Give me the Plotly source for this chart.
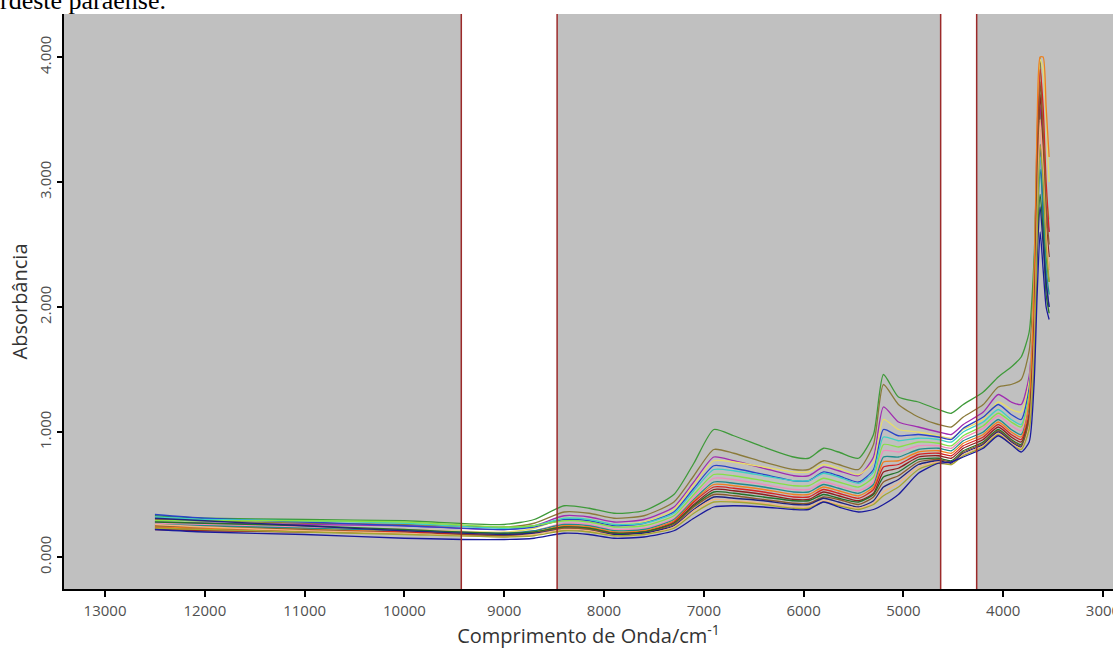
import plotly.graph_objects as go

wavenumber = [12500, 12000, 11000, 10000, 9000, 8700, 8400, 8150, 7900, 7600,
              7300, 7100, 6900, 6700, 6400, 6100, 5950, 5800, 5650, 5450,
              5300, 5200, 5050, 4850, 4650, 4520, 4400, 4200, 4050, 3920,
              3820, 3740, 3690, 3660, 3630, 3600, 3570, 3540]

s01 = [.33, .31, .30, .29, .26, .30, .41, .39, .35, .37, .50, .75, 1.02, .97, .88, .80, .79, .87, .84, .79,
       .98, 1.46, 1.28, 1.24, 1.18, 1.15, 1.22, 1.32, 1.44, 1.52, 1.60, 1.80, 2.4, 3.2, 3.6, 2.9, 2.4, 2.2]
s02 = [.30, .29, .27, .26, .24, .27, .36, .35, .31, .33, .44, .65, .86, .83, .76, .70, .70, .77, .74, .70,
       .90, 1.38, 1.22, 1.12, 1.06, 1.04, 1.12, 1.22, 1.36, 1.38, 1.42, 1.65, 2.3, 3.4, 4.0, 3.2, 2.6, 2.3]
s03 = [.28, .27, .26, .25, .22, .25, .33, .32, .28, .30, .40, .60, .80, .77, .71, .65, .65, .72, .69, .65,
       .80, 1.20, 1.08, 1.04, 1.00, .98, 1.06, 1.16, 1.30, 1.24, 1.22, 1.45, 2.1, 3.0, 3.6, 3.3, 2.8, 2.6]
s04 = [.25, .24, .23, .22, .20, .23, .31, .30, .26, .28, .38, .58, .77, .76, .72, .68, .68, .74, .71, .66,
       .76, 1.10, 1.02, 1.00, .97, .95, 1.02, 1.10, 1.24, 1.18, 1.16, 1.40, 2.2, 3.3, 3.98, 3.9, 3.5, 3.0]
s05 = [.34, .31, .28, .25, .22, .24, .30, .29, .25, .27, .36, .55, .73, .71, .66, .61, .61, .68, .65, .60,
       .70, 1.02, .97, .98, .96, .94, 1.03, 1.12, 1.22, 1.14, 1.10, 1.35, 2.0, 2.8, 3.3, 2.7, 2.2, 2.0]
s06 = [.32, .30, .29, .27, .23, .25, .31, .30, .26, .27, .35, .53, .70, .69, .65, .61, .61, .67, .64, .59,
       .68, .96, .93, .95, .94, .92, 1.00, 1.08, 1.18, 1.10, 1.06, 1.30, 1.9, 2.7, 3.2, 3.0, 2.6, 2.4]
s07 = [.29, .29, .29, .28, .24, .25, .29, .28, .24, .25, .33, .50, .66, .65, .61, .57, .57, .63, .60, .56,
       .64, .90, .88, .92, .91, .89, .97, 1.05, 1.15, 1.08, 1.04, 1.30, 2.0, 3.0, 3.7, 3.4, 2.9, 2.7]
s08 = [.27, .26, .24, .22, .19, .21, .27, .26, .22, .23, .31, .48, .63, .62, .58, .54, .54, .60, .57, .53,
       .60, .85, .84, .89, .89, .87, .95, 1.03, 1.13, 1.05, 1.01, 1.25, 1.9, 2.8, 3.4, 3.1, 2.5, 2.3]
s09 = [.26, .25, .23, .21, .19, .21, .26, .25, .21, .22, .30, .46, .60, .59, .56, .52, .52, .58, .55, .51,
       .58, .80, .80, .86, .87, .85, .93, 1.00, 1.10, 1.02, .98, 1.20, 1.8, 2.6, 3.1, 2.8, 2.3, 2.1]
s10 = [.24, .23, .22, .20, .18, .20, .25, .24, .20, .21, .29, .45, .58, .57, .54, .50, .50, .56, .53, .49,
       .56, .76, .77, .84, .85, .83, .91, .98, 1.08, 1.00, .96, 1.25, 2.2, 3.5, 4.0, 4.0, 3.6, 3.2]
s11 = [.23, .22, .21, .20, .17, .19, .24, .23, .19, .20, .28, .44, .56, .55, .52, .48, .48, .54, .51, .47,
       .54, .72, .74, .82, .83, .81, .89, .96, 1.06, .98, .94, 1.15, 1.9, 3.1, 3.9, 3.6, 3.0, 2.6]
s12 = [.22, .21, .20, .19, .17, .19, .23, .22, .19, .20, .27, .42, .54, .53, .50, .46, .46, .52, .49, .45,
       .51, .68, .71, .80, .81, .79, .87, .94, 1.04, .96, .92, 1.12, 1.8, 2.9, 3.7, 3.3, 2.7, 2.4]
s13 = [.28, .27, .25, .22, .19, .20, .24, .23, .19, .20, .27, .41, .52, .51, .48, .45, .45, .50, .47, .44,
       .50, .64, .68, .78, .79, .77, .85, .92, 1.02, .94, .90, 1.10, 1.7, 2.5, 2.9, 2.6, 2.1, 1.95]
s14 = [.25, .24, .22, .19, .17, .19, .23, .22, .18, .19, .26, .40, .50, .49, .46, .43, .43, .48, .46, .42,
       .48, .60, .65, .76, .78, .76, .84, .91, 1.01, .93, .89, 1.10, 1.8, 3.0, 3.8, 3.4, 2.8, 2.5]
s15 = [.31, .29, .25, .21, .18, .19, .22, .21, .18, .19, .25, .38, .48, .47, .45, .42, .42, .47, .44, .40,
       .45, .56, .62, .74, .77, .75, .83, .90, 1.00, .92, .88, 1.05, 1.6, 2.4, 2.8, 2.5, 2.2, 2.0]
s16 = [.26, .24, .21, .19, .16, .18, .22, .21, .17, .18, .24, .37, .46, .45, .43, .40, .40, .45, .42, .39,
       .43, .52, .59, .72, .76, .74, .82, .89, .99, .91, .87, 1.05, 1.7, 2.7, 3.5, 3.1, 2.6, 2.3]
s17 = [.23, .22, .20, .18, .16, .17, .21, .20, .17, .18, .23, .35, .44, .44, .42, .39, .39, .44, .41, .38,
       .42, .49, .56, .70, .75, .74, .81, .88, .98, .90, .86, 1.02, 1.6, 2.6, 3.3, 3.0, 2.5, 2.2]
s18 = [.22, .20, .18, .15, .14, .15, .19, .18, .15, .16, .21, .31, .40, .41, .40, .38, .38, .44, .40, .36,
       .38, .42, .50, .67, .75, .76, .80, .87, .97, .90, .84, .92, 1.4, 2.1, 2.6, 2.3, 2.0, 1.9]

spectra = [s01, s02, s03, s04, s05, s06, s07, s08, s09, s10,
           s11, s12, s13, s14, s15, s16, s17, s18]
colors = ["#3f9a3a", "#8a7a3a", "#a02cb0", "#e6dc6a", "#2a44c8", "#3fd0c4",
          "#86e048", "#f08cbc", "#1f8c8c", "#ee8020", "#d42424", "#8e1f1f",
          "#23702a", "#8b5a2b", "#22227e", "#f2b482", "#a4a632", "#1a1a9c"]

# Excluded (white) wavenumber windows and their red borders
white_bands = [(9430, 8470), (4627, 4266)]
border_lines = [9430, 8470, 4627, 4266]

x_ticks = [13000, 12000, 11000, 10000, 9000, 8000, 7000, 6000, 5000, 4000, 3000]
y_ticks = [0, 1, 2, 3, 4]

fig = go.Figure()
for vals, col in zip(spectra, colors):
    fig.add_trace(go.Scatter(
        x=wavenumber, y=vals, mode="lines",
        line=dict(color=col, width=1.3, shape="spline", smoothing=0.6),
        showlegend=False, hoverinfo="skip"))

for a, b in white_bands:
    fig.add_shape(type="rect", xref="x", yref="paper", x0=a, x1=b, y0=0, y1=1,
                  fillcolor="white", line_width=0, layer="below")
for xv in border_lines:
    fig.add_shape(type="line", xref="x", yref="paper", x0=xv, x1=xv, y0=0, y1=1,
                  line=dict(color="#9c2a2a", width=1.5), layer="above")

fig.add_annotation(text="rdeste paraense.", xref="paper", yref="paper",
                   x=-64 / 1049 - 0.002, y=1 + 13.5 / 575, xanchor="left", yanchor="middle",
                   showarrow=False,
                   font=dict(family="Liberation Serif", size=26, color="#000000"))

tick_font = dict(family="Open Sans, DejaVu Sans", size=15, color="#505050")
fig.update_layout(
    width=1113, height=649,
    margin=dict(l=64, r=0, t=14, b=60),
    paper_bgcolor="white", plot_bgcolor="#c0c0c0",
    xaxis=dict(range=[13411, 2900], tickvals=x_ticks,
               ticktext=[str(v) for v in x_ticks], automargin=False,
               showgrid=False, zeroline=False,
               showline=True, linecolor="black", linewidth=2,
               ticks="outside", ticklen=6, tickwidth=1.5, tickcolor="black",
               tickfont=tick_font, ticklabelstandoff=1, ticklabeloverflow="allow",
               title=dict(text="Comprimento de Onda/cm<sup>-1</sup>",
                          font=dict(family="Open Sans, DejaVu Sans", size=20, color="#333333"),
                          standoff=2)),
    yaxis=dict(range=[-0.256, 4.344], tickvals=y_ticks, tickformat=".3f",
               automargin=False,
               showgrid=False, zeroline=False,
               showline=True, linecolor="black", linewidth=2,
               ticks="outside", ticklen=5, tickwidth=1.5, tickcolor="black",
               tickangle=-90, tickfont=tick_font,
               title=dict(text="Absorbância",
                          font=dict(family="Open Sans, DejaVu Sans", size=20, color="#333333"),
                          standoff=2)),
)

fig.write_html("out.html", config={"displayModeBar": False},
               post_script="document.body.style.margin='0';")
